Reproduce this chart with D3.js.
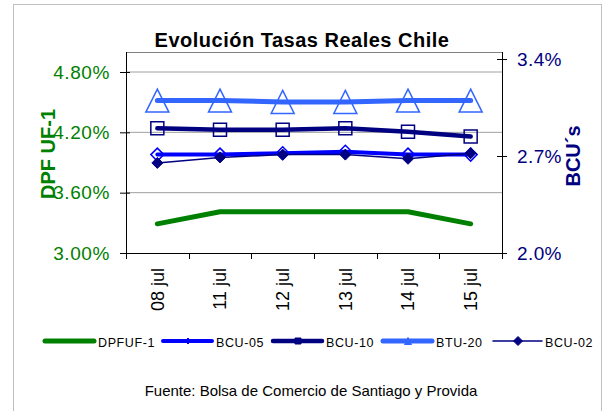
<!DOCTYPE html>
<html>
<head>
<meta charset="utf-8">
<script src="https://cdn.jsdelivr.net/npm/d3@7"></script>
<style>
  body { margin: 0; background: #fff; }
  svg { font-family: "Liberation Sans", Arial, sans-serif; }
</style>
</head>
<body>
<div id="chart"></div>
<script>
// data
const categories = ['08 jul', '11 jul', '12 jul', '13 jul', '14 jul', '15 jul'];
const dpfuf1 = [3.29, 3.41, 3.41, 3.41, 3.41, 3.29];
const bcu05 = [2.71, 2.71, 2.72, 2.73, 2.71, 2.71];
const bcu10 = [2.90, 2.89, 2.89, 2.90, 2.875, 2.84];
const btu20 = [3.10, 3.10, 3.09, 3.09, 3.10, 3.10];
const bcu02 = [2.65, 2.69, 2.71, 2.71, 2.68, 2.72];
const leftTicks = [3.0, 3.6, 4.2, 4.8];
const rightTicks = [2.0, 2.7, 3.4];

const width = 603, height = 411;
const plot = {left: 126, right: 502, top: 52, bottom: 253};

const svg = d3.select('#chart').append('svg')
    .attr('width', width)
    .attr('height', height);

// outer frame
svg.append('rect')
    .attr('x', 13.5).attr('y', 4.5)
    .attr('width', 588).attr('height', 420)
    .attr('fill', '#fff').attr('stroke', '#c0c0c0');

// scales
const x = d3.scaleBand().domain(categories).range([plot.left, plot.right]);
const yL = d3.scaleLinear().domain([3.0, 4.8]).range([plot.bottom, 72]);
const yR = d3.scaleLinear().domain([2.0, 3.4]).range([plot.bottom, 59]);

// gridlines
svg.append('g').selectAll('line')
    .data(leftTicks.slice(1))
    .enter().append('line')
    .attr('x1', plot.left).attr('x2', plot.right)
    .attr('y1', d => yL(d)).attr('y2', d => yL(d))
    .attr('stroke', '#a0a0a0').attr('stroke-width', 1);

// plot frame (top edge)
svg.append('line')
    .attr('x1', plot.left).attr('x2', plot.right)
    .attr('y1', plot.top + 0.5).attr('y2', plot.top + 0.5)
    .attr('stroke', '#808080');

// left axis
const gL = svg.append('g')
    .attr('transform', 'translate(' + plot.left + ',0)')
    .call(d3.axisLeft(yL).tickValues(leftTicks).tickSizeOuter(0).tickSize(6).tickPadding(10)
        .tickFormat(d => d.toFixed(2) + '%'));
gL.select('.domain').remove();
gL.selectAll('.tick line').attr('x1', 4).attr('stroke', '#000');
gL.selectAll('.tick text').attr('fill', '#008000').style('font-size', '19px')
    .style('letter-spacing', '0.6px')
    .style('font-family', '"Liberation Sans", Arial, sans-serif');

// right axis
const gR = svg.append('g')
    .attr('transform', 'translate(' + plot.right + ',0)')
    .call(d3.axisRight(yR).tickValues(rightTicks).tickSizeOuter(0).tickSize(5).tickPadding(10)
        .tickFormat(d => d.toFixed(1) + '%'));
gR.select('.domain').remove();
gR.selectAll('.tick line').attr('x1', -5).attr('stroke', '#000');
gR.selectAll('.tick text').attr('fill', '#000080').style('font-size', '19px')
    .style('letter-spacing', '0.4px')
    .style('font-family', '"Liberation Sans", Arial, sans-serif');

// vertical axis lines
[plot.left, plot.right].forEach(px => {
    svg.append('line')
        .attr('x1', px + 0.5).attr('x2', px + 0.5)
        .attr('y1', plot.top).attr('y2', plot.bottom)
        .attr('stroke', '#000');
});

// x axis
svg.append('line')
    .attr('x1', plot.left).attr('x2', plot.right)
    .attr('y1', plot.bottom + 0.5).attr('y2', plot.bottom + 0.5)
    .attr('stroke', '#000');
const bounds = categories.map(c => x(c)).concat([x.range()[1]]);
svg.append('g').selectAll('line')
    .data(bounds)
    .enter().append('line')
    .attr('x1', d => Math.round(d) + 0.5).attr('x2', d => Math.round(d) + 0.5)
    .attr('y1', plot.bottom).attr('y2', plot.bottom + 6)
    .attr('stroke', '#000');
svg.append('g').selectAll('text')
    .data(categories)
    .enter().append('text')
    .attr('transform', d => 'translate(' + (x(d) + x.bandwidth() / 2) + ',268) rotate(-90)')
    .attr('text-anchor', 'end')
    .attr('dy', '0.35em')
    .style('font-size', '18px')
    .attr('fill', '#000')
    .text(d => d);

// markers
function diamond(s) {
    return 'M0,' + (-s) + 'L' + s + ',0L0,' + s + 'L' + (-s) + ',0Z';
}
function square(s) {
    return 'M' + (-s) + ',' + (-s) + 'h' + (2 * s) + 'v' + (2 * s) + 'h' + (-2 * s) + 'Z';
}
function triangle(s) {
    return 'M0,' + (-s) + 'L' + s + ',' + s + 'L' + (-s) + ',' + s + 'Z';
}

const series = [
    {name: 'DPFUF-1', values: dpfuf1, scale: yL, color: '#008000', width: 5, marker: null},
    {name: 'BCU-05', values: bcu05, scale: yR, color: '#0000ff', width: 4,
        marker: diamond(6.5), fill: 'none', mstroke: 1.5, legendMarker: diamond(3), legendFill: '#0000ff'},
    {name: 'BCU-10', values: bcu10, scale: yR, color: '#000080', width: 4.5,
        marker: square(6.5), fill: 'none', mstroke: 1.5, legendMarker: square(3), legendFill: '#000080'},
    {name: 'BTU-20', values: btu20, scale: yR, color: '#3366ff', width: 5,
        marker: triangle(11.5), fill: 'none', mstroke: 1.5, legendMarker: triangle(3.5), legendFill: '#3366ff'},
    {name: 'BCU-02', values: bcu02, scale: yR, color: '#000080', width: 1.5,
        marker: diamond(5.5), fill: '#000080', mstroke: 1, legendMarker: diamond(4.5), legendFill: '#000080'}
];

series.forEach(s => {
    const line = d3.line()
        .x((d, i) => x(categories[i]) + x.bandwidth() / 2)
        .y(d => s.scale(d));
    svg.append('path')
        .datum(s.values)
        .attr('d', line)
        .attr('fill', 'none')
        .attr('stroke', s.color)
        .attr('stroke-width', s.width)
        .attr('stroke-linecap', 'round')
        .attr('stroke-linejoin', 'round');
    if (s.marker) {
        svg.append('g').selectAll('path')
            .data(s.values)
            .enter().append('path')
            .attr('transform', (d, i) => 'translate(' + (x(categories[i]) + x.bandwidth() / 2) + ',' + s.scale(d) + ')')
            .attr('d', s.marker)
            .attr('fill', s.fill)
            .attr('stroke', s.color)
            .attr('stroke-width', s.mstroke);
    }
});

// title
svg.append('text')
    .attr('x', 302).attr('y', 47)
    .attr('text-anchor', 'middle')
    .style('font-size', '20px').style('font-weight', 'bold')
    .style('letter-spacing', '0.5px')
    .text('Evolución Tasas Reales Chile');

// axis titles
svg.append('text')
    .attr('transform', 'translate(48,154) rotate(-90)')
    .attr('text-anchor', 'middle').attr('dy', '0.35em')
    .style('font-size', '20px').style('font-weight', 'bold')
    .attr('fill', '#008000')
    .text('DPF UF-1');
svg.append('text')
    .attr('transform', 'translate(573,156) rotate(-90)')
    .attr('text-anchor', 'middle').attr('dy', '0.35em')
    .style('font-size', '20px').style('font-weight', 'bold')
    .attr('fill', '#000080')
    .text('BCU´s');

// legend
const legendX = [45, 163, 273, 383, 493];
const legendY = 341;
series.forEach((s, i) => {
    const g = svg.append('g').attr('transform', 'translate(' + legendX[i] + ',' + legendY + ')');
    g.append('line')
        .attr('x1', 0).attr('x2', 49)
        .attr('stroke', s.color)
        .attr('stroke-width', s.width)
        .attr('stroke-linecap', 'round');
    if (s.legendMarker) {
        g.append('path')
            .attr('transform', 'translate(25,0)')
            .attr('d', s.legendMarker)
            .attr('fill', s.legendFill)
            .attr('stroke', s.color);
    }
    g.append('text')
        .attr('x', i === 4 ? 52 : 53).attr('y', 6)
        .style('font-size', '12.5px')
        .style('letter-spacing', '0.6px')
        .text(s.name);
});

// source
svg.append('text')
    .attr('x', 311).attr('y', 396)
    .attr('text-anchor', 'middle')
    .style('font-size', '15px')
    .text('Fuente: Bolsa de Comercio de Santiago y Provida');
</script>
</body>
</html>
